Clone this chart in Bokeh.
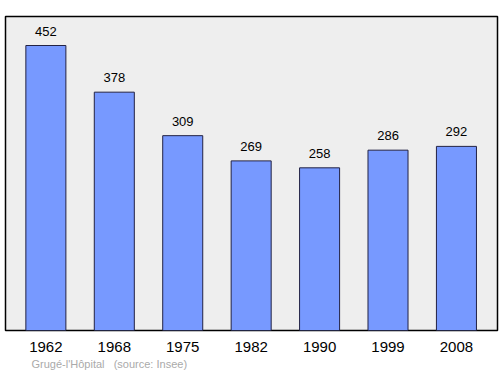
from bokeh.plotting import figure
from bokeh.models import ColumnDataSource, Range1d, Title, FixedTicker
from bokeh.core.properties import value
from bokeh.embed import file_html
from bokeh.resources import INLINE

years = ["1962", "1968", "1975", "1982", "1990", "1999", "2008"]
population = [452, 378, 309, 269, 258, 286, 292]
place = "Grugé-l'Hôpital"
source_note = "(source: Insee)"

FONT = "Liberation Sans"
idx = list(range(len(years)))
src = ColumnDataSource(dict(x=idx, y=population, label=[str(v) for v in population]))

p = figure(width=500, height=374, output_backend="svg", toolbar_location=None,
           x_range=Range1d(-0.59, 6.60), y_range=Range1d(0, 498),
           min_border_left=5, min_border_right=3, min_border_top=16, min_border_bottom=44)
p.background_fill_color = "#eeeeee"
p.border_fill_color = "white"
p.outline_line_color = "black"
p.outline_line_width = 1.5
p.grid.visible = False
p.yaxis.visible = False

p.vbar(x="x", top="y", bottom=0, width=0.585, source=src,
       fill_color="#7799ff", line_color="#222244", line_width=1)
p.text(x="x", y="y", text="label", source=src, y_offset=-10,
       text_align="center", text_baseline="bottom",
       text_font=value(FONT), text_font_size="13px", text_color="black")

xa = p.xaxis[0]
xa.ticker = FixedTicker(ticks=idx)
xa.major_label_overrides = {i: y for i, y in zip(idx, years)}
xa.axis_line_color = None
xa.major_tick_line_color = None
xa.minor_tick_line_color = None
xa.major_label_standoff = 5
xa.major_label_text_font = FONT
xa.major_label_text_font_size = "15px"
xa.major_label_text_color = "black"

p.add_layout(Title(text=place + "\u00a0\u00a0\u00a0" + source_note, align="left", offset=26,
                   standoff=3, text_font=FONT, text_font_size="11px",
                   text_font_style="normal", text_color="#aaaaaa"), "below")

open("out.html", "w").write(file_html(p, INLINE))
